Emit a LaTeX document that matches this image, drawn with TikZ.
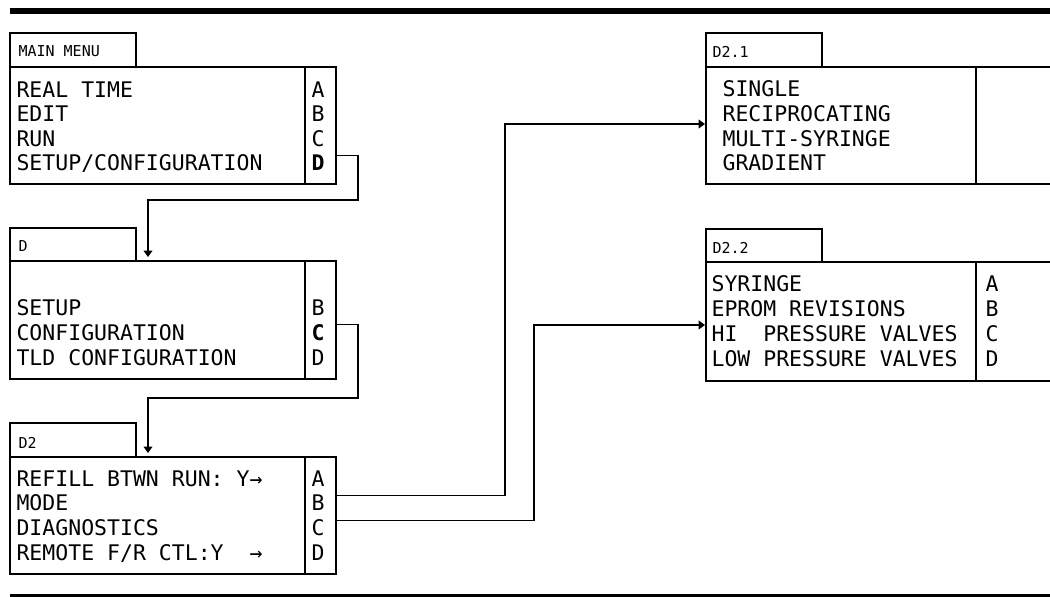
\documentclass[tikz,border=0pt]{standalone}
\usepackage{fontspec}
\newfontfamily\lcd{DejaVu Sans Mono}
\usetikzlibrary{arrows.meta}
\begin{document}
\begin{tikzpicture}[x=1pt,y=-1pt,line width=1.1pt,
  box/.style={draw,inner sep=0,outer sep=0,anchor=north west},
  txt/.style={inner sep=0,anchor=base west,font=\lcd\fontsize{21.5}{24}\selectfont},
  key/.style={inner sep=0,anchor=base,font=\lcd\fontsize{21.5}{24}\selectfont},
  tabtxt/.style={inner sep=0,anchor=base west,font=\lcd\fontsize{15}{17}\selectfont},
  conn/.style={draw,-{Triangle[width=9pt,length=6.5pt]}}]
\useasboundingbox (0,0) rectangle (1050,597);
% thick rules
\fill (10,8) rectangle (1050,14);
\fill (10,594) rectangle (1050,600);

% ---------- MAIN MENU ----------
\node[box,minimum width=126,minimum height=34] (mmtab) at (10,33) {};
\node[box,minimum width=326,minimum height=117] (mm) at (10,67) {};
\draw (305,67) -- (305,184);
\node[tabtxt] (mmtitle) at (18,56) {MAIN MENU};
\node[txt] (mm1) at (16,97) {REAL TIME};
\node[txt] (mm2) at (16,121.5) {EDIT};
\node[txt] (mm3) at (16,146) {RUN};
\node[txt] (mm4) at (16,170.5) {SETUP/CONFIGURATION};
\node[key] (mmA) at (318,97) {A};
\node[key] (mmB) at (318,121.5) {B};
\node[key] (mmC) at (318,146) {C};
\node[key] (mmD) at (318,170.5) {\bfseries D};

% ---------- D ----------
\node[box,minimum width=126,minimum height=33] (dtab) at (10,228) {};
\node[box,minimum width=326,minimum height=118] (dbox) at (10,261) {};
\draw (305,261) -- (305,379);
\node[tabtxt] (dtitle) at (18,251.5) {D};
\node[txt] (d1) at (16,315) {SETUP};
\node[txt] (d2) at (16,340) {CONFIGURATION};
\node[txt] (d3) at (16,365) {TLD CONFIGURATION};
\node[key] (dB) at (318,315) {B};
\node[key] (dC) at (318,340) {\bfseries C};
\node[key] (dD) at (318,365) {D};

% ---------- D2 ----------
\node[box,minimum width=126,minimum height=34] (dtwotab) at (10,423) {};
\node[box,minimum width=326,minimum height=117] (dtwo) at (10,457) {};
\draw (305,457) -- (305,574);
\node[tabtxt] (dtwotitle) at (18,448) {D2};
\node[txt] (dtwo1) at (16,486) {REFILL BTWN RUN: Y→};
\node[txt] (dtwo2) at (16,510.5) {MODE};
\node[txt] (dtwo3) at (16,535.5) {DIAGNOSTICS};
\node[txt] (dtwo4) at (16,560) {REMOTE F/R CTL:Y\ \ →};
\node[key] (dtwoA) at (318,486) {A};
\node[key] (dtwoB) at (318,510.5) {B};
\node[key] (dtwoC) at (318,535.5) {C};
\node[key] (dtwoD) at (318,560) {D};

% ---------- D2.1 ----------
\node[box,minimum width=116,minimum height=34] (donetab) at (706,33) {};
\node[box,minimum width=354,minimum height=117] (done) at (706,67) {};
\draw (976,67) -- (976,184);
\node[tabtxt] (donetitle) at (712,57) {D2.1};
\node[txt] (done1) at (722,96.5) {SINGLE};
\node[txt] (done2) at (722,121.5) {RECIPROCATING};
\node[txt] (done3) at (722,146.5) {MULTI-SYRINGE};
\node[txt] (done4) at (722,170.5) {GRADIENT};

% ---------- D2.2 ----------
\node[box,minimum width=116,minimum height=33] (dttab) at (706,229) {};
\node[box,minimum width=354,minimum height=119] (dt) at (706,262) {};
\draw (976,262) -- (976,381);
\node[tabtxt] (dttitle) at (712,253) {D2.2};
\node[txt] (dt1) at (711,291.5) {SYRINGE};
\node[txt] (dt2) at (711,316.5) {EPROM REVISIONS};
\node[txt] (dt3) at (711,341.5) {HI\ \ PRESSURE VALVES};
\node[txt] (dt4) at (711,366.5) {LOW PRESSURE VALVES};
\node[key] (dtA) at (992,291.5) {A};
\node[key] (dtB) at (992,316.5) {B};
\node[key] (dtC) at (992,341.5) {C};
\node[key] (dtD) at (992,366.5) {D};

% ---------- connectors ----------
\draw[conn,shorten >=4pt] (mm.north east |- mmD.center) ++(0,-7) -- ++(22,0) |- (148,200) -- ([xshift=138pt]dbox.north west);
\draw[conn,shorten >=4pt] (dbox.north east |- dC.center) ++(0,-8) -- ++(22,0) |- (148,398) -- ([xshift=138pt]dtwo.north west);
\draw[conn,shorten >=1pt] (dtwo.north east |- dtwoB.center) ++(0,-7) -- ++(169,0) |- (done.west |- 0,124);
\draw[conn,shorten >=1pt] (dtwo.north east |- dtwoC.center) ++(0,-7) -- ++(198,0) |- (dt.west |- 0,325);
\end{tikzpicture}
\end{document}
